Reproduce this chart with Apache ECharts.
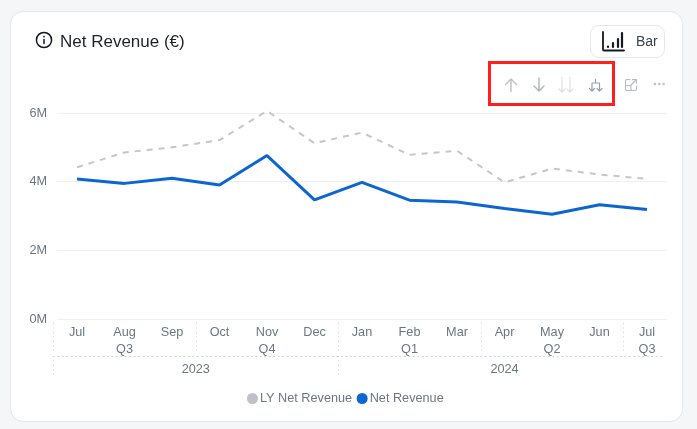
<!DOCTYPE html>
<html><head><meta charset="utf-8">
<script src="https://cdn.jsdelivr.net/npm/echarts@6/dist/echarts.min.js"></script>
<style>
html,body{margin:0;padding:0;width:697px;height:429px;overflow:hidden;background:#f5f6f8;font-family:"Liberation Sans",sans-serif}
#card{position:absolute;left:10px;top:11px;width:671px;height:409px;background:#fff;border:1px solid #e4e6ea;border-radius:13px}
#chart{position:absolute;left:0;top:0;width:697px;height:429px}
#title{position:absolute;left:60px;top:31px;font-size:17px;line-height:22px;color:#1f2328}
#btn{position:absolute;left:590px;top:25px;width:73px;height:31px;border:1px solid #e4e6ea;border-radius:9px;background:#fff}
#btn span{position:absolute;left:45px;top:6px;font-size:14px;line-height:18px;color:#374151}
#red{position:absolute;left:488px;top:61px;width:121px;height:39px;border:3px solid #ff1f1f}
svg{position:absolute;overflow:visible}
</style></head><body>
<div id="card"></div>
<div id="chart"></div>
<svg style="left:0;top:0" width="697" height="429" fill="none" stroke-linecap="round" stroke-linejoin="round">
  <circle cx="44" cy="40" r="7.6" stroke="#15181c" stroke-width="1.5"/>
  <path d="M44 39.500v4" stroke="#15181c" stroke-width="1.5"/><circle cx="44" cy="36.600" r=".9" fill="#15181c"/>
  <g stroke="#bcc1c9" stroke-width="1.4"><path d="M511 91.500V79M505.500 84.500 511 79l5.500 5.500"/></g>
  <g stroke="#aeb4bd" stroke-width="1.4"><path d="M539 78v13M534 86 539 91l5-5"/></g>
  <g stroke="#dfe1e6" stroke-width="1.2"><path d="M562 77v15M559 89 562 92l3-3M570 77v15M567 89 570 92l3-3"/></g>
  <g stroke="#98a0ab" stroke-width="1.2"><path d="M595.500 79v4M592 91v-8h7.500v8M589.500 88.500 592 91l2.500-2.500M597 88.500 599.500 91l2.500-2.500"/></g>
  <g stroke="#b4bac3" stroke-width="1.1"><path d="M630 79.500h-3a1.500 1.500 0 0 0-1.500 1.500v8a1.500 1.500 0 0 0 1.500 1.500h8a1.500 1.500 0 0 0 1.500-1.500v-3"/><path d="M625.500 85.500h5.500v5M631 85l5-5M632.500 79.500h4v4"/></g>
  <g fill="#bcc1c9"><circle cx="655" cy="84" r="1.300"/><circle cx="659.300" cy="84" r="1.300"/><circle cx="663.600" cy="84" r="1.300"/></g>
</svg>
<div id="title">Net Revenue (€)</div>
<div id="btn"><svg style="left:11px;top:5px" width="22" height="21" fill="none" stroke="#15181c" stroke-linecap="round"><path d="M1 1v17.500q0 1 1 1h20" stroke-width="1.800"/><path d="M6 15.500v.5" stroke-width="2.200"/><path d="M11 12v4" stroke-width="2.200"/><path d="M16 8v8" stroke-width="2.200"/><path d="M20 2v14" stroke-width="2.200"/></svg><span>Bar</span></div>
<div id="red"></div>
<script>
const months = ['Jul','Aug','Sep','Oct','Nov','Dec','Jan','Feb','Mar','Apr','May','Jun','Jul'];
const lyNetRevenue = [4.42,4.85,5.00,5.21,6.06,5.12,5.43,4.78,4.90,3.98,4.38,4.21,4.08];
const netRevenue = [4.08,3.95,4.10,3.90,4.76,3.47,3.98,3.46,3.41,3.22,3.05,3.33,3.19];
const quarterLabels = ['Q3','Q4','Q1','Q2','Q3'];
const quarterStarts = [0,3,6,9,12];
const quarterCenters = [1.5,4.5,7.5,10.5,12.5];
const yearLabels = ['2023','2024'];
const yearStarts = [0,6];
const yearCenters = [3,9.5];

const textColor = '#6b7685';
const dotted = {color:'#cdd0d5',type:[1,3.5],width:1};
const font = {color:textColor,fontSize:12.7,fontFamily:'Liberation Sans'};
const plotGrid = {left:53.25,top:113,width:617.5,height:206};
const hiddenX = (gridIndex)=>({type:'value',gridIndex,min:0,max:1,show:false});
const hiddenY = (gridIndex)=>({type:'value',gridIndex,min:0,max:6,show:false});

const chart = echarts.init(document.getElementById('chart'),null,{renderer:'canvas'});
chart.setOption({
  animation:false,
  grid:[
    plotGrid,
    {left:57,top:113,width:610,height:206},
    {left:53.25,top:113,width:609,height:206}
  ],
  legend:{
    bottom:19,left:242,icon:'circle',itemWidth:11,itemHeight:11,itemGap:4.5,
    textStyle:{...font,padding:[0,0,0,-3]},
    data:['LY Net Revenue','Net Revenue']
  },
  xAxis:[
    {type:'category',gridIndex:0,data:months,axisLine:{show:false},axisTick:{show:false},
     axisLabel:{...font,margin:7,interval:0}},
    {type:'value',gridIndex:0,min:0,max:13,position:'bottom',offset:4,axisLine:{show:false,onZero:false},splitLine:{show:false},
     axisTick:{show:true,customValues:quarterStarts,length:31,lineStyle:dotted},
     axisLabel:{...font,margin:20,customValues:quarterCenters,
       formatter:v=>quarterLabels[quarterCenters.indexOf(v)]}},
    {type:'value',gridIndex:0,min:0,max:13,position:'bottom',offset:37,axisLine:{show:false,onZero:false},splitLine:{show:false},
     axisTick:{show:true,customValues:yearStarts,length:21,lineStyle:dotted},
     axisLabel:{...font,margin:7,customValues:yearCenters,
       formatter:v=>yearLabels[yearCenters.indexOf(v)]}},
    hiddenX(1),
    {type:'value',gridIndex:2,min:0,max:1,position:'bottom',offset:37,
     axisLine:{show:true,onZero:false,lineStyle:dotted},axisTick:{show:false},axisLabel:{show:false},splitLine:{show:false}}
  ],
  yAxis:[
    hiddenY(0),
    {type:'value',gridIndex:1,min:0,max:6,interval:2,axisLine:{show:false},axisTick:{show:false},
     axisLabel:{...font,margin:10,padding:[2,0,0,0],formatter:v=>v+'M'},
     splitLine:{show:true,lineStyle:{color:'#eef0f2',width:1}}},
    hiddenY(2)
  ],
  series:[
    {name:'LY Net Revenue',type:'line',xAxisIndex:0,yAxisIndex:0,data:lyNetRevenue,symbol:'none',clip:false,
     itemStyle:{color:'#bfc1c7'},lineStyle:{color:'#c4c6cc',width:2,type:[6,6]}},
    {name:'Net Revenue',type:'line',xAxisIndex:0,yAxisIndex:0,data:netRevenue,symbol:'none',clip:false,
     itemStyle:{color:'#0b66d0'},lineStyle:{color:'#0b66d0',width:3}}
  ]
});
</script>
</body></html>
